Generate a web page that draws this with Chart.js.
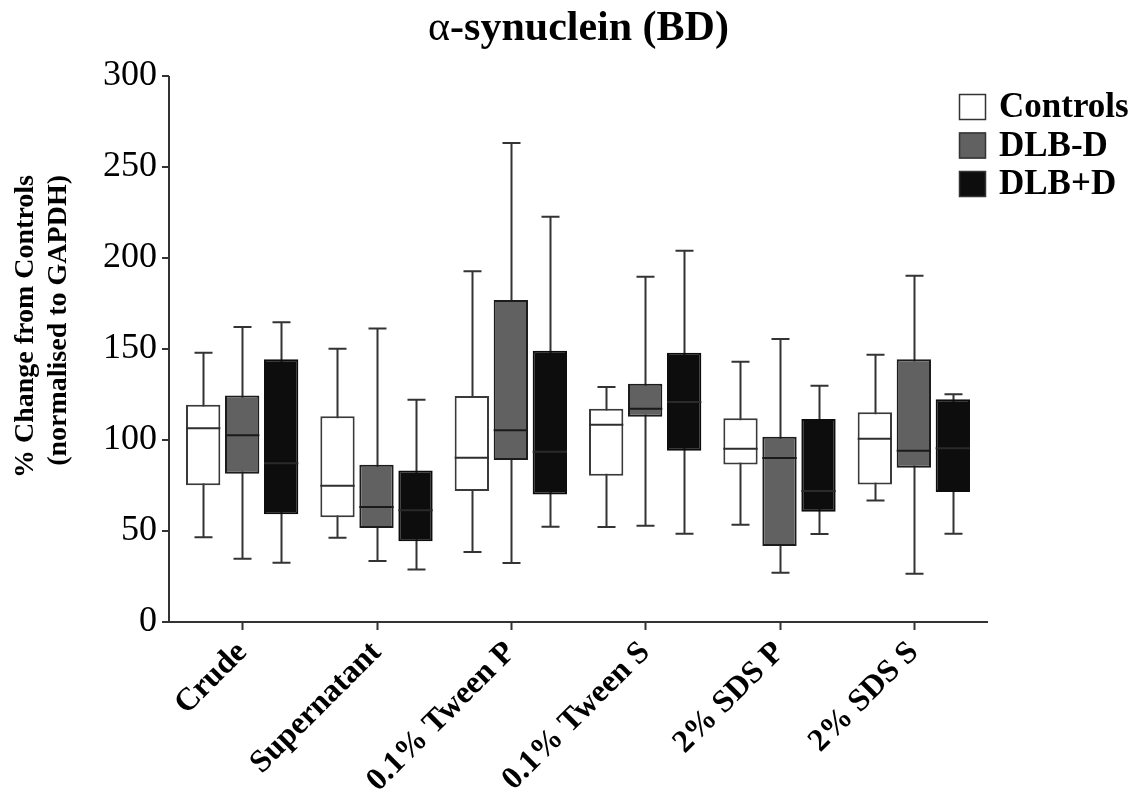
<!DOCTYPE html>
<html>
<head>
<meta charset="utf-8">
<script src="https://cdn.jsdelivr.net/npm/chart.js@4/dist/chart.umd.min.js"></script>
<style>
  html, body { margin: 0; padding: 0; background: #ffffff; }
  #wrap { width: 1139px; height: 796px; position: relative; }
</style>
</head>
<body>
<div id="wrap"><canvas id="chart"></canvas></div>
<script>
// Fractions along the extraction and the three groups
const categories = ['Crude', 'Supernatant', '0.1% Tween P', '0.1% Tween S', '2% SDS P', '2% SDS S'];
const groupNames = ['Controls', 'DLB-D', 'DLB+D'];
const yTicks = [0, 50, 100, 150, 200, 250, 300];

// Five-number summaries (% change from controls) per group
const controlsMin = [46.5, 46.3, 38.5, 52.2, 53.5, 66.7];
const controlsQ1  = [75.1, 57.5, 72.0, 80.4, 86.6, 75.6];
const controlsMed = [106.4, 74.9, 90.3, 108.4, 95.2, 100.7];
const controlsQ3  = [119.4, 113.0, 124.2, 117.2, 111.9, 115.2];
const controlsMax = [148.0, 150.2, 192.7, 129.1, 143.0, 146.9];

const dlbNoDMin = [34.8, 33.5, 32.4, 52.9, 27.1, 26.5];
const dlbNoDQ1  = [81.5, 51.6, 89.0, 112.8, 41.8, 84.8];
const dlbNoDMed = [102.6, 63.2, 105.3, 117.2, 90.1, 94.1];
const dlbNoDQ3  = [124.4, 86.4, 176.9, 130.9, 101.8, 144.3];
const dlbNoDMax = [162.1, 161.2, 263.2, 189.7, 155.5, 190.3];

const dlbDMin = [32.6, 28.8, 52.4, 48.5, 48.4, 48.5];
const dlbDQ1  = [59.2, 44.3, 70.1, 94.1, 60.6, 71.4];
const dlbDMed = [87.2, 61.4, 93.6, 120.9, 72.0, 95.4];
const dlbDQ3  = [144.3, 83.2, 149.1, 148.0, 111.5, 122.4];
const dlbDMax = [164.7, 122.1, 222.7, 204.0, 129.8, 125.1];

const summaries = [
  { min: controlsMin, q1: controlsQ1, med: controlsMed, q3: controlsQ3, max: controlsMax },
  { min: dlbNoDMin, q1: dlbNoDQ1, med: dlbNoDMed, q3: dlbNoDQ3, max: dlbNoDMax },
  { min: dlbDMin, q1: dlbDQ1, med: dlbDMed, q3: dlbDQ3, max: dlbDMax }
];

const fills   = ['#ffffff', '#616161', '#0d0d0d'];
const borders = ['#3a3a3a', '#1c1c1c', '#0d0d0d'];
const medianColors = ['#2e2e2e', '#1a1a1a', '#2a2a2a'];
const axisColor = '#333333';
const serif = "'Liberation Serif', 'Times New Roman', serif";

// Boxes are floating bars from Q1 to Q3
const datasets = summaries.map((s, d) => ({
  label: groupNames[d],
  data: s.q1.map((v, i) => [v, s.q3[i]]),
  backgroundColor: fills[d],
  borderColor: borders[d],
  borderWidth: 2,
  borderSkipped: false,
  categoryPercentage: 0.871,
  barPercentage: 0.88
}));

// Whiskers (behind the boxes) and medians (on top)
const boxPlotParts = {
  id: 'boxPlotParts',
  beforeDatasetsDraw(chart) {
    const ctx = chart.ctx, y = chart.scales.y;
    ctx.save();
    ctx.strokeStyle = axisColor;
    ctx.lineWidth = 2;
    summaries.forEach((s, d) => {
      chart.getDatasetMeta(d).data.forEach((bar, i) => {
        const x = Math.round(bar.x) + 0.5;
        const yMin = y.getPixelForValue(s.min[i]);
        const yMax = y.getPixelForValue(s.max[i]);
        const cap = 9;
        ctx.beginPath();
        ctx.moveTo(x, yMin); ctx.lineTo(x, yMax);
        ctx.moveTo(x - cap, yMin); ctx.lineTo(x + cap, yMin);
        ctx.moveTo(x - cap, yMax); ctx.lineTo(x + cap, yMax);
        ctx.stroke();
      });
    });
    ctx.restore();
  },
  afterDatasetsDraw(chart) {
    const ctx = chart.ctx, y = chart.scales.y;
    ctx.save();
    ctx.lineWidth = 2;
    summaries.forEach((s, d) => {
      ctx.strokeStyle = medianColors[d];
      chart.getDatasetMeta(d).data.forEach((bar, i) => {
        const ym = y.getPixelForValue(s.med[i]);
        ctx.beginPath();
        ctx.moveTo(bar.x - bar.width / 2, ym);
        ctx.lineTo(bar.x + bar.width / 2, ym);
        ctx.stroke();
      });
    });
    ctx.restore();
  }
};

// Axis lines and tick marks, set slightly apart from the plotting area
const axesLines = {
  id: 'axesLines',
  afterDraw(chart) {
    const ctx = chart.ctx, x = chart.scales.x, y = chart.scales.y;
    const axisX = chart.chartArea.left - 6;
    const axisEnd = chart.chartArea.right + 7;
    const y0 = y.getPixelForValue(0);
    ctx.save();
    ctx.strokeStyle = axisColor;
    ctx.lineWidth = 2;
    ctx.beginPath();
    ctx.moveTo(axisX, y.getPixelForValue(300));
    ctx.lineTo(axisX, y0);
    ctx.lineTo(axisEnd, y0);
    yTicks.forEach(v => {
      const py = y.getPixelForValue(v);
      ctx.moveTo(axisX - 7, py); ctx.lineTo(axisX, py);
    });
    categories.forEach((c, i) => {
      const px = Math.round(x.getPixelForValue(i)) + 0.5;
      ctx.moveTo(px, y0); ctx.lineTo(px, y0 + 8);
    });
    ctx.stroke();
    ctx.restore();
  }
};

// Title, y-axis caption and legend
const annotations = {
  id: 'annotations',
  afterDraw(chart) {
    const ctx = chart.ctx;
    const area = chart.chartArea;
    ctx.save();
    ctx.fillStyle = '#000000';

    // Title: Greek alpha in regular weight, the rest bold
    const alpha = '\u03b1';
    const rest = '-synuclein (BD)';
    const fAlpha = `42px ${serif}`;
    const fRest = `bold 42px ${serif}`;
    ctx.font = fAlpha; const wA = ctx.measureText(alpha).width;
    ctx.font = fRest;  const wR = ctx.measureText(rest).width;
    const cx = (area.left - 6 + area.right + 7) / 2;
    let tx = cx - (wA + wR) / 2;
    ctx.textBaseline = 'alphabetic';
    ctx.textAlign = 'left';
    ctx.font = fAlpha; ctx.fillText(alpha, tx, 40);
    ctx.font = fRest;  ctx.fillText(rest, tx + wA, 40);

    // Y-axis caption, two lines reading upward
    ctx.font = `bold 28px ${serif}`;
    ctx.textAlign = 'right';
    const yLines = ['% Change from Controls', '(normalised to GAPDH)'];
    const baseX = [33, 66];
    yLines.forEach((t, k) => {
      ctx.save();
      ctx.translate(baseX[k], 175);
      ctx.rotate(-Math.PI / 2);
      ctx.fillText(t, 0, 0);
      ctx.restore();
    });

    // Legend
    ctx.textAlign = 'left';
    ctx.textBaseline = 'middle';
    ctx.font = `bold 35px ${serif}`;
    chart.data.datasets.forEach((ds, k) => {
      const top = 94 + k * 38.5;
      ctx.fillStyle = ds.backgroundColor;
      ctx.fillRect(959, top, 27, 26);
      ctx.strokeStyle = '#333333';
      ctx.lineWidth = 1.5;
      ctx.strokeRect(959.5, top + 0.5, 26, 25);
      ctx.fillStyle = '#000000';
      ctx.fillText(ds.label, 999, top + 14);
    });
    ctx.restore();
  }
};

new Chart(document.getElementById('chart'), {
  type: 'bar',
  data: { labels: categories, datasets },
  plugins: [boxPlotParts, axesLines, annotations],
  options: {
    responsive: true,
    maintainAspectRatio: false,
    animation: false,
    layout: { padding: { top: 76, right: 158, bottom: 0, left: 0 } },
    plugins: {
      legend: { display: false },
      title: { display: false },
      tooltip: { enabled: false }
    },
    scales: {
      x: {
        grid: { display: false, drawTicks: false },
        border: { display: false },
        ticks: {
          autoSkip: false,
          maxRotation: 45,
          minRotation: 45,
          padding: 12,
          color: '#000000',
          font: { family: serif, size: 32, weight: 'bold' }
        },
        afterFit(scale) { scale.height = 174; }
      },
      y: {
        min: 0,
        max: 300,
        grid: { display: false, drawTicks: false },
        border: { display: false },
        ticks: {
          stepSize: 50,
          padding: 18,
          color: '#000000',
          font: { family: serif, size: 36 }
        },
        afterFit(scale) { scale.width = 175; }
      }
    }
  }
});
</script>
</body>
</html>
